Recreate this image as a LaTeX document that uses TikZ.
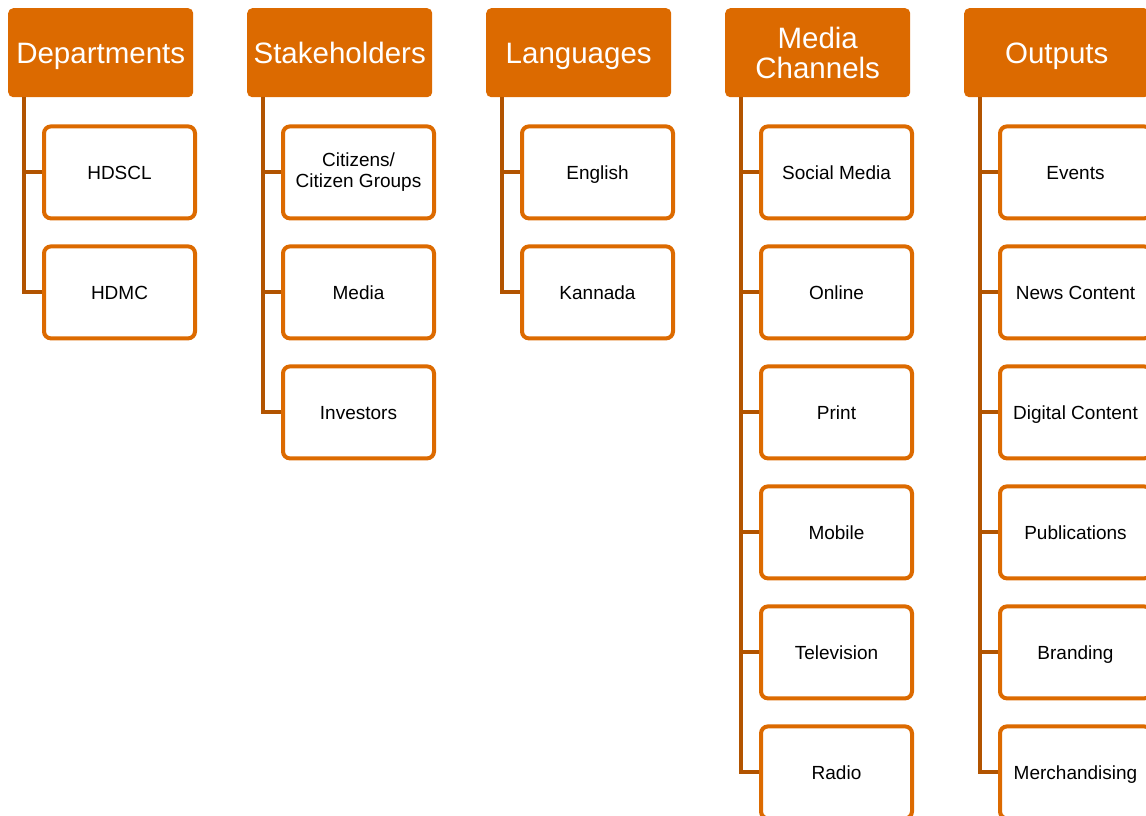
\documentclass[tikz,border=0pt]{standalone}
\usepackage{fontspec}
\setmainfont{Liberation Sans}
\usetikzlibrary{positioning}
\definecolor{hdrorange}{RGB}{220,106,0}
\definecolor{linkbrown}{RGB}{178,84,0}
\tikzset{
    headbox/.style={fill=hdrorange, text=white, rounded corners=5pt,
                    minimum width=185pt, minimum height=89pt, inner sep=0pt,
                    align=center, anchor=north west,
                    font=\fontsize{29.5}{30}\selectfont},
    header/.style={headbox, text height=21pt, text depth=0pt},
    itembox/.style={draw=hdrorange, line width=4pt, fill=white, rounded corners=7pt,
                    minimum width=151pt, minimum height=92pt, inner sep=0pt,
                    align=center, font=\fontsize{19}{21}\selectfont},
    item/.style={itembox, text height=13.6pt, text depth=0pt},
    link/.style={draw=linkbrown, line width=4pt},
}

\begin{document}
\begin{tikzpicture}[x=1pt,y=1pt]
    \useasboundingbox (0,0) rectangle (1146,-816);

    % top row of headings
    \node[header]  (dep)  at (8,-8)   {Departments};
    \node[header]  (stk)  at (247,-8) {Stakeholders};
    \node[header]  (lang) at (486,-8) {Languages};
    \node[headbox] (chan) at (725,-8) {Media\\Channels};
    \node[header]  (out)  at (964,-8) {Outputs};

    % Departments
    \node[item, below right=27pt and 34pt of dep.south west, anchor=north west] (hdscl) {HDSCL};
    \node[item, below=24pt of hdscl] (hdmc) {HDMC};

    % Stakeholders
    \node[itembox, below right=27pt and 34pt of stk.south west, anchor=north west] (citz) {Citizens/\\Citizen Groups};
    \node[item, below=24pt of citz]  (media) {Media};
    \node[item, below=24pt of media] (inv)   {Investors};

    % Languages
    \node[item, below right=27pt and 34pt of lang.south west, anchor=north west] (eng) {English};
    \node[item, below=24pt of eng] (kan) {Kannada};

    % Media Channels
    \node[item, below right=27pt and 34pt of chan.south west, anchor=north west] (social) {Social Media};
    \node[item, below=24pt of social] (online) {Online};
    \node[item, below=24pt of online] (print)  {Print};
    \node[item, below=24pt of print]  (mobile) {Mobile};
    \node[item, below=24pt of mobile] (tv)     {Television};
    \node[item, below=24pt of tv]     (radio)  {Radio};

    % Outputs
    \node[item, below right=27pt and 34pt of out.south west, anchor=north west] (events) {Events};
    \node[item, below=24pt of events]  (news)    {News Content};
    \node[item, below=24pt of news]    (digital) {Digital Content};
    \node[item, below=24pt of digital] (pubs)    {Publications};
    \node[item, below=24pt of pubs]    (brand)   {Branding};
    \node[item, below=24pt of brand]   (merch)   {Merchandising};

    % brackets from each heading to its items
    \foreach \c in {hdscl,hdmc}
        \draw[link] ([xshift=16pt]dep.south west) |- (\c.west);
    \foreach \c in {citz,media,inv}
        \draw[link] ([xshift=16pt]stk.south west) |- (\c.west);
    \foreach \c in {eng,kan}
        \draw[link] ([xshift=16pt]lang.south west) |- (\c.west);
    \foreach \c in {social,online,print,mobile,tv,radio}
        \draw[link] ([xshift=16pt]chan.south west) |- (\c.west);
    \foreach \c in {events,news,digital,pubs,brand,merch}
        \draw[link] ([xshift=16pt]out.south west) |- (\c.west);
\end{tikzpicture}
\end{document}
